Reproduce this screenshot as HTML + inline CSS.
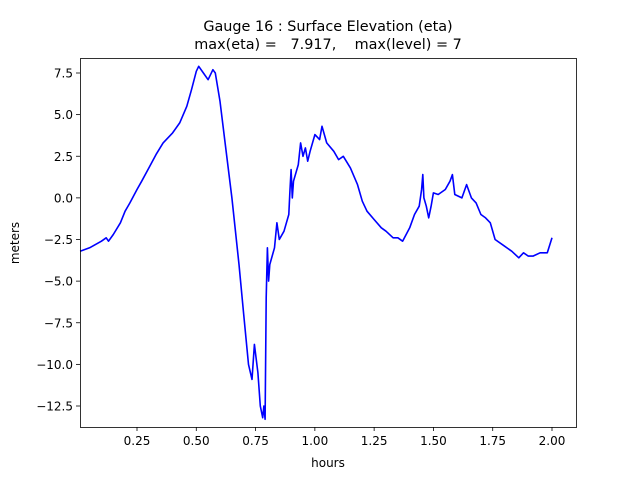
<!DOCTYPE html>
<html><head><meta charset="utf-8"><style>
body{margin:0;background:#fff;}
svg text{font-family:"DejaVu Sans","Liberation Sans",sans-serif;fill:#000;}
</style></head><body>
<svg id="s" width="640" height="480" xmlns="http://www.w3.org/2000/svg">
<rect width="640" height="480" fill="#fff"/>
<text x="328" y="31" font-size="14.4" text-anchor="middle">Gauge 16 : Surface Elevation (eta)</text>
<text x="328" y="49" font-size="14.4" text-anchor="middle" xml:space="preserve">max(eta) =   7.917,    max(level) = 7</text>
<g id="ticks" font-size="12"></g>
<polyline id="line" fill="none" stroke="#0000ff" stroke-width="1.6" stroke-linejoin="round"/>
<rect x="80.5" y="58.5" width="496" height="369" fill="none" stroke="#000" stroke-width="0.8"/>
<text x="328" y="467" font-size="12" text-anchor="middle">hours</text>
<text transform="translate(19,243) rotate(-90)" font-size="12" text-anchor="middle">meters</text>
</svg>
<script>
function X(h){return 137+(h-0.25)*237.14;}
function Y(v){return 73+(7.5-v)*16.65;}
var g=document.getElementById('ticks'),ns='http://www.w3.org/2000/svg',o='';
[0.25,0.5,0.75,1,1.25,1.5,1.75,2].forEach(function(h){var x=X(h);
o+='<line x1="'+x+'" x2="'+x+'" y1="427" y2="431" stroke="#000" stroke-width="0.8"/>';
o+='<text x="'+x+'" y="445" text-anchor="middle">'+h.toFixed(2)+'</text>';});
for(var v=7.5;v>=-12.5;v-=2.5){var y=Y(v);
o+='<line x1="76" x2="80" y1="'+y+'" y2="'+y+'" stroke="#000" stroke-width="0.8"/>';
o+='<text x="73" y="'+(y+4.5)+'" text-anchor="end">'+(v<0?'\u2212':'')+Math.abs(v).toFixed(1)+'</text>';}
g.innerHTML=o;
var d=[0.01,-3.2,0.05,-3.0,0.1,-2.6,0.12,-2.4,0.13,-2.6,0.15,-2.2,0.18,-1.5,0.2,-0.8,0.22,-0.3,0.25,0.5,0.27,1.0,0.3,1.8,0.33,2.6,0.36,3.3,0.4,3.9,0.43,4.5,0.46,5.5,0.48,6.5,0.5,7.6,0.51,7.9,0.53,7.5,0.55,7.1,0.57,7.7,0.58,7.5,0.6,5.8,0.62,3.5,0.65,0,0.68,-4,0.7,-7,0.72,-10,0.735,-10.9,0.745,-8.8,0.76,-10.5,0.77,-12.5,0.78,-13.2,0.785,-12.5,0.79,-13.3,0.795,-6,0.8,-3,0.805,-5,0.81,-4,0.83,-3,0.84,-1.5,0.85,-2.5,0.87,-2,0.89,-1,0.895,0.5,0.9,1.7,0.905,0,0.91,1,0.93,2,0.94,3.3,0.95,2.5,0.96,3,0.97,2.2,0.98,2.8,1.0,3.8,1.02,3.5,1.03,4.3,1.05,3.3,1.08,2.8,1.1,2.3,1.12,2.5,1.15,1.8,1.18,0.8,1.2,-0.2,1.22,-0.8,1.25,-1.3,1.28,-1.8,1.3,-2,1.33,-2.4,1.35,-2.4,1.37,-2.6,1.4,-1.8,1.42,-1,1.44,-0.5,1.45,0.5,1.455,1.4,1.46,0,1.47,-0.5,1.48,-1.2,1.49,-0.5,1.5,0.3,1.52,0.2,1.55,0.5,1.57,1.0,1.58,1.4,1.59,0.2,1.62,0,1.64,0.8,1.66,0,1.68,-0.3,1.7,-1,1.72,-1.2,1.74,-1.5,1.76,-2.5,1.8,-2.9,1.83,-3.2,1.86,-3.6,1.88,-3.3,1.9,-3.5,1.92,-3.5,1.95,-3.3,1.98,-3.3,2.0,-2.4];
var p=[];for(var i=0;i<d.length;i+=2)p.push(X(d[i]).toFixed(1)+','+Y(d[i+1]).toFixed(1));
document.getElementById('line').setAttribute('points',p.join(' '));
</script>
</body></html>
